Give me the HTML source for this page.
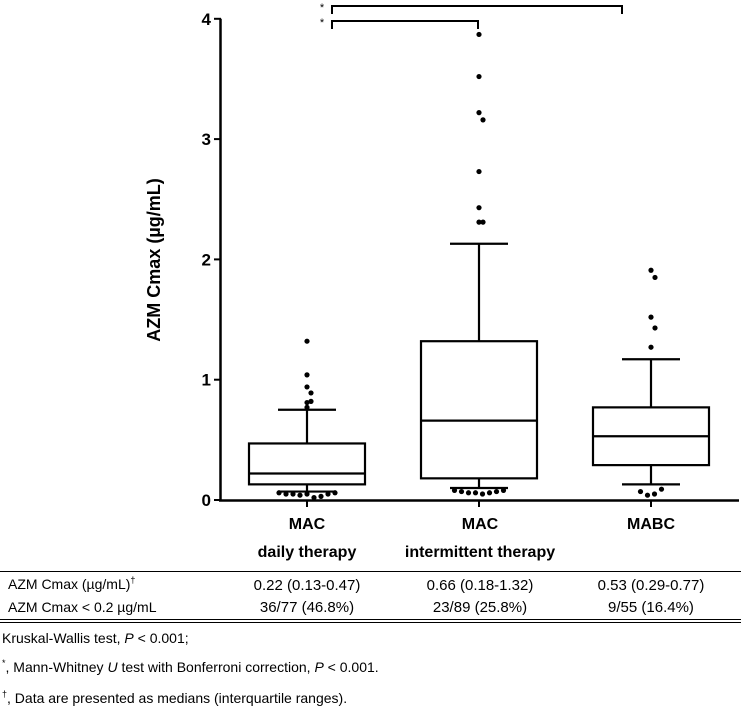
<!DOCTYPE html>
<html><head><meta charset="utf-8"><style>
html,body{margin:0;padding:0;background:#fff;}
svg{display:block;font-family:"Liberation Sans",Arial,sans-serif;}
</style></head><body>
<svg id="chart" width="741" height="710" viewBox="0 0 741 710">
<g id="plot"></g>
<text x="160" y="260" transform="rotate(-90 160 260)" text-anchor="middle" font-size="18" font-weight="bold">AZM Cmax (µg/mL)</text>
<g font-size="16" font-weight="bold" text-anchor="middle">
<text x="307" y="529">MAC</text>
<text x="307" y="557">daily therapy</text>
<text x="480" y="529">MAC</text>
<text x="480" y="557">intermittent therapy</text>
<text x="651" y="529">MABC</text>
</g>
<g font-size="14">
<line x1="0" y1="571.5" x2="741" y2="571.5" stroke="#000" stroke-width="1"/>
<text x="8" y="589">AZM Cmax (µg/mL)<tspan font-size="9" dy="-6">†</tspan></text>
<g text-anchor="middle" font-size="15">
<text x="307" y="590">0.22 (0.13-0.47)</text>
<text x="480" y="590">0.66 (0.18-1.32)</text>
<text x="651" y="590">0.53 (0.29-0.77)</text>
<text x="307" y="612">36/77 (46.8%)</text>
<text x="480" y="612">23/89 (25.8%)</text>
<text x="651" y="612">9/55 (16.4%)</text>
</g>
<text x="8" y="612">AZM Cmax &lt; 0.2 µg/mL</text>
<line x1="0" y1="619.5" x2="741" y2="619.5" stroke="#000" stroke-width="1"/>
<line x1="0" y1="622.5" x2="741" y2="622.5" stroke="#000" stroke-width="1"/>
<text x="2" y="643">Kruskal-Wallis test, <tspan font-style="italic">P</tspan> &lt; 0.001;</text>
<text x="2" y="672"><tspan font-size="9" dy="-6">*</tspan><tspan dy="6">, Mann-Whitney </tspan><tspan font-style="italic">U</tspan> test with Bonferroni correction, <tspan font-style="italic">P</tspan> &lt; 0.001.</text>
<text x="2" y="703"><tspan font-size="9" dy="-6">†</tspan><tspan dy="6">, Data are presented as medians (interquartile ranges).</tspan></text>
</g>
</svg>
<script>
const groups = ['MAC daily', 'MAC intermittent', 'MABC'];
const q1 = [0.13, 0.18, 0.29];
const medians = [0.22, 0.66, 0.53];
const q3 = [0.47, 1.32, 0.77];
const whiskLow = [0.07, 0.10, 0.13];
const whiskHigh = [0.75, 2.13, 1.17];
const outliersHigh = [
  [1.32, 1.04, 0.94, 0.89, 0.81, 0.82, 0.77],
  [3.87, 3.52, 3.22, 3.16, 2.73, 2.43, 2.31, 2.31],
  [1.91, 1.85, 1.52, 1.43, 1.27]
];
const outliersLow = [
  [0.06, 0.05, 0.05, 0.04, 0.05, 0.02, 0.03, 0.05, 0.06],
  [0.08, 0.07, 0.06, 0.06, 0.05, 0.06, 0.07, 0.08],
  [0.07, 0.04, 0.05, 0.09]
];
const yTicks = [0, 1, 2, 3, 4];

const NS = 'http://www.w3.org/2000/svg';
const plot = document.getElementById('plot');
const y = v => 500 - v * 120.3;
const xc = i => 307 + i * 172;
const boxW = 116, capW = 58;
function mk(tag, attrs) {
  const e = document.createElementNS(NS, tag);
  for (const k in attrs) e.setAttribute(k, attrs[k]);
  plot.appendChild(e);
  return e;
}
let e = mk('line', {x1: 220.5, y1: y(4), x2: 220.5, y2: 501.5, stroke: '#000', 'stroke-width': 2.5});


e = mk('line', {x1: 219, y1: 500.5, x2: 739, y2: 500.5, stroke: '#000', 'stroke-width': 2.5});


yTicks.forEach(t => {
  let tk = mk('line', {x1: 214, y1: y(t), x2: 221, y2: y(t), stroke: '#000', 'stroke-width': 2});
  
  
  let lb = mk('text', {x: 211, y: y(t) + 6, 'text-anchor': 'end', 'font-size': 17, 'font-weight': 'bold'});
  lb.textContent = t;
  
  
});
groups.forEach((g, i) => {
  const cx = xc(i);
  let tk = mk('line', {x1: cx, y1: 500, x2: cx, y2: 507, stroke: '#000', 'stroke-width': 2});
  
  
  const st = {stroke: '#000', 'stroke-width': 2.2, fill: 'none'};
  let w1 = mk('line', Object.assign({x1: cx, y1: y(whiskLow[i]), x2: cx, y2: y(q1[i])}, st));
  
  
  let w2 = mk('line', Object.assign({x1: cx, y1: y(q3[i]), x2: cx, y2: y(whiskHigh[i])}, st));
  
  
  let c1 = mk('line', Object.assign({x1: cx - capW / 2, y1: y(whiskLow[i]), x2: cx + capW / 2, y2: y(whiskLow[i])}, st));
  
  
  let c2 = mk('line', Object.assign({x1: cx - capW / 2, y1: y(whiskHigh[i]), x2: cx + capW / 2, y2: y(whiskHigh[i])}, st));
  
  
  let b = mk('rect', Object.assign({x: cx - boxW / 2, y: y(q3[i]), width: boxW, height: y(q1[i]) - y(q3[i])}, st));
  
  
  let m = mk('line', Object.assign({x1: cx - boxW / 2, y1: y(medians[i]), x2: cx + boxW / 2, y2: y(medians[i])}, st));
  
  
  outliersHigh[i].forEach((v, j) => {
    const dx = (j % 2 === 0 ? 0 : 1) * ((outliersHigh[i][j - 1] !== undefined && Math.abs(outliersHigh[i][j - 1] - v) < 0.1) ? 8 : 0);
    let p = mk('circle', {cx: cx + dx - (dx ? 4 : 0), cy: y(v), r: 2.6, fill: '#000'});
    
    
  });
  const n = outliersLow[i].length;
  outliersLow[i].forEach((v, j) => {
    let p = mk('circle', {cx: cx - (n - 1) * 3.5 + j * 7, cy: y(v), r: 2.6, fill: '#000'});
    
    
  });
});
function bracket(x1, x2, yy, name) {
  let p = mk('path', {d: `M${x1} ${yy + 8} V${yy} H${x2} V${yy + 8}`, stroke: '#000', 'stroke-width': 2, fill: 'none'});
  
  
  let s = mk('text', {x: 322, y: yy + 5, 'font-size': 11, 'text-anchor': 'middle'});
  s.textContent = '*';
  
  
}
bracket(332, 622, 6, 'bracket-daily-vs-mabc');
bracket(332, 478, 21, 'bracket-daily-vs-intermittent');
</script>
</body></html>
